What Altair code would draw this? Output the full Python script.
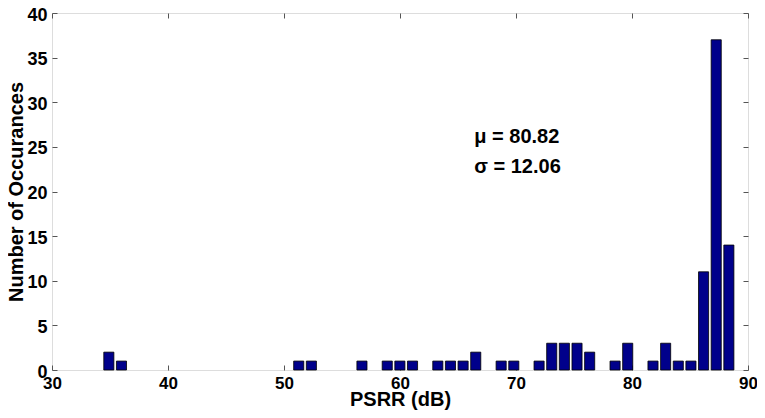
import altair as alt
import pandas as pd

# bin centres (dB) and counts
centers = [34.90, 35.99, 51.27, 52.36, 56.72, 58.90, 59.99, 61.08, 63.26, 64.35,
           65.44, 66.53, 68.72, 69.81, 71.99, 73.08, 74.17, 75.26, 76.35, 78.54,
           79.63, 81.81, 82.90, 83.99, 85.08, 86.17, 87.26, 88.35]
counts = [2, 1, 1, 1, 1, 1, 1, 1, 1, 1,
          1, 2, 1, 1, 1, 3, 3, 3, 2, 1,
          3, 1, 3, 1, 1, 11, 37, 14]
bar_width = 0.87
x_ticks = [30, 40, 50, 60, 70, 80, 90]
y_ticks = [0, 5, 10, 15, 20, 25, 30, 35, 40]
annotations = ["μ = 80.82", "σ = 12.06"]
annotation_y = [26.1, 22.7]
annotation_x = 66.4

W, H = 696, 357
FONT = "Arial, Liberation Sans, sans-serif"
AXC = "#555555"

df = pd.DataFrame({"c": centers, "n": counts})

xs = alt.Scale(domain=[30, 90], nice=False, zero=False)
ys = alt.Scale(domain=[0, 40], nice=False)

base = alt.Chart(df).transform_calculate(
    lo=f"datum.c - {bar_width/2}", hi=f"datum.c + {bar_width/2}"
)

def axx(**kw):
    d = dict(values=x_ticks, grid=False, domain=False, title=None, labels=False,
             tickColor=AXC, tickSize=5)
    d.update(kw)
    return alt.Axis(**d)

def axy(**kw):
    d = dict(values=y_ticks, grid=False, domain=False, title=None, labels=False,
             tickColor=AXC, tickSize=5)
    d.update(kw)
    return alt.Axis(**d)

bars = base.mark_bar(color="#00008B", stroke="#000000", strokeWidth=0.8).encode(
    x=alt.X("lo:Q", scale=xs, axis=axx(orient="bottom", labels=True, ticks=False,
            title="PSRR (dB)", labelFont=FONT, labelFontSize=17, labelFontWeight="bold",
            labelColor="#000", labelPadding=5, labelFlush=False,
            titleFont=FONT, titleFontSize=20,
            titleFontWeight="bold", titleColor="#000", titleY=19, titleBaseline="top")),
    x2="hi:Q",
    y=alt.Y("n:Q", scale=ys, axis=axy(orient="left", labels=True, ticks=False,
            title="Number of Occurances", labelFont=FONT, labelFontSize=18,
            labelFontWeight="bold", labelColor="#000", labelPadding=5, labelFlush=False,
            labelOffset=2,
            titleFont=FONT, titleFontSize=20, titleFontWeight="bold",
            titleColor="#000", titleX=-36, titleBaseline="middle")),
    y2=alt.datum(0),
)

# inward ticks on bottom and left edges
ticks_bl = base.mark_point(opacity=0).encode(
    x=alt.X("c:Q", scale=xs, axis=axx(orient="top", offset=-H)),
    y=alt.Y("n:Q", scale=ys, axis=axy(orient="right", offset=-W)),
)
# inward ticks on top and right edges
ticks_tr = base.mark_point(opacity=0).encode(
    x=alt.X("c:Q", scale=xs, axis=axx(orient="bottom", offset=-H)),
    y=alt.Y("n:Q", scale=ys, axis=axy(orient="left", offset=-W)),
)

text = alt.Chart(pd.DataFrame({"t": annotations, "yy": annotation_y})).mark_text(
    align="left", baseline="middle", font=FONT, fontSize=20, fontWeight="bold", color="#000"
).encode(
    x=alt.X(datum=annotation_x, scale=xs, axis=None),
    y=alt.Y("yy:Q", scale=ys, axis=None),
    text="t:N",
)

chart = alt.layer(bars, ticks_bl, ticks_tr, text).resolve_axis(
    x="independent", y="independent"
).properties(
    width=W, height=H,
    autosize=alt.AutoSizeParams(type="none"),
    padding={"left": 44, "top": 5, "right": 9, "bottom": 40},
).configure_view(stroke=AXC, strokeWidth=1).configure(background="white")

chart.save("out.html", embed_options={"renderer": "svg", "actions": False})
